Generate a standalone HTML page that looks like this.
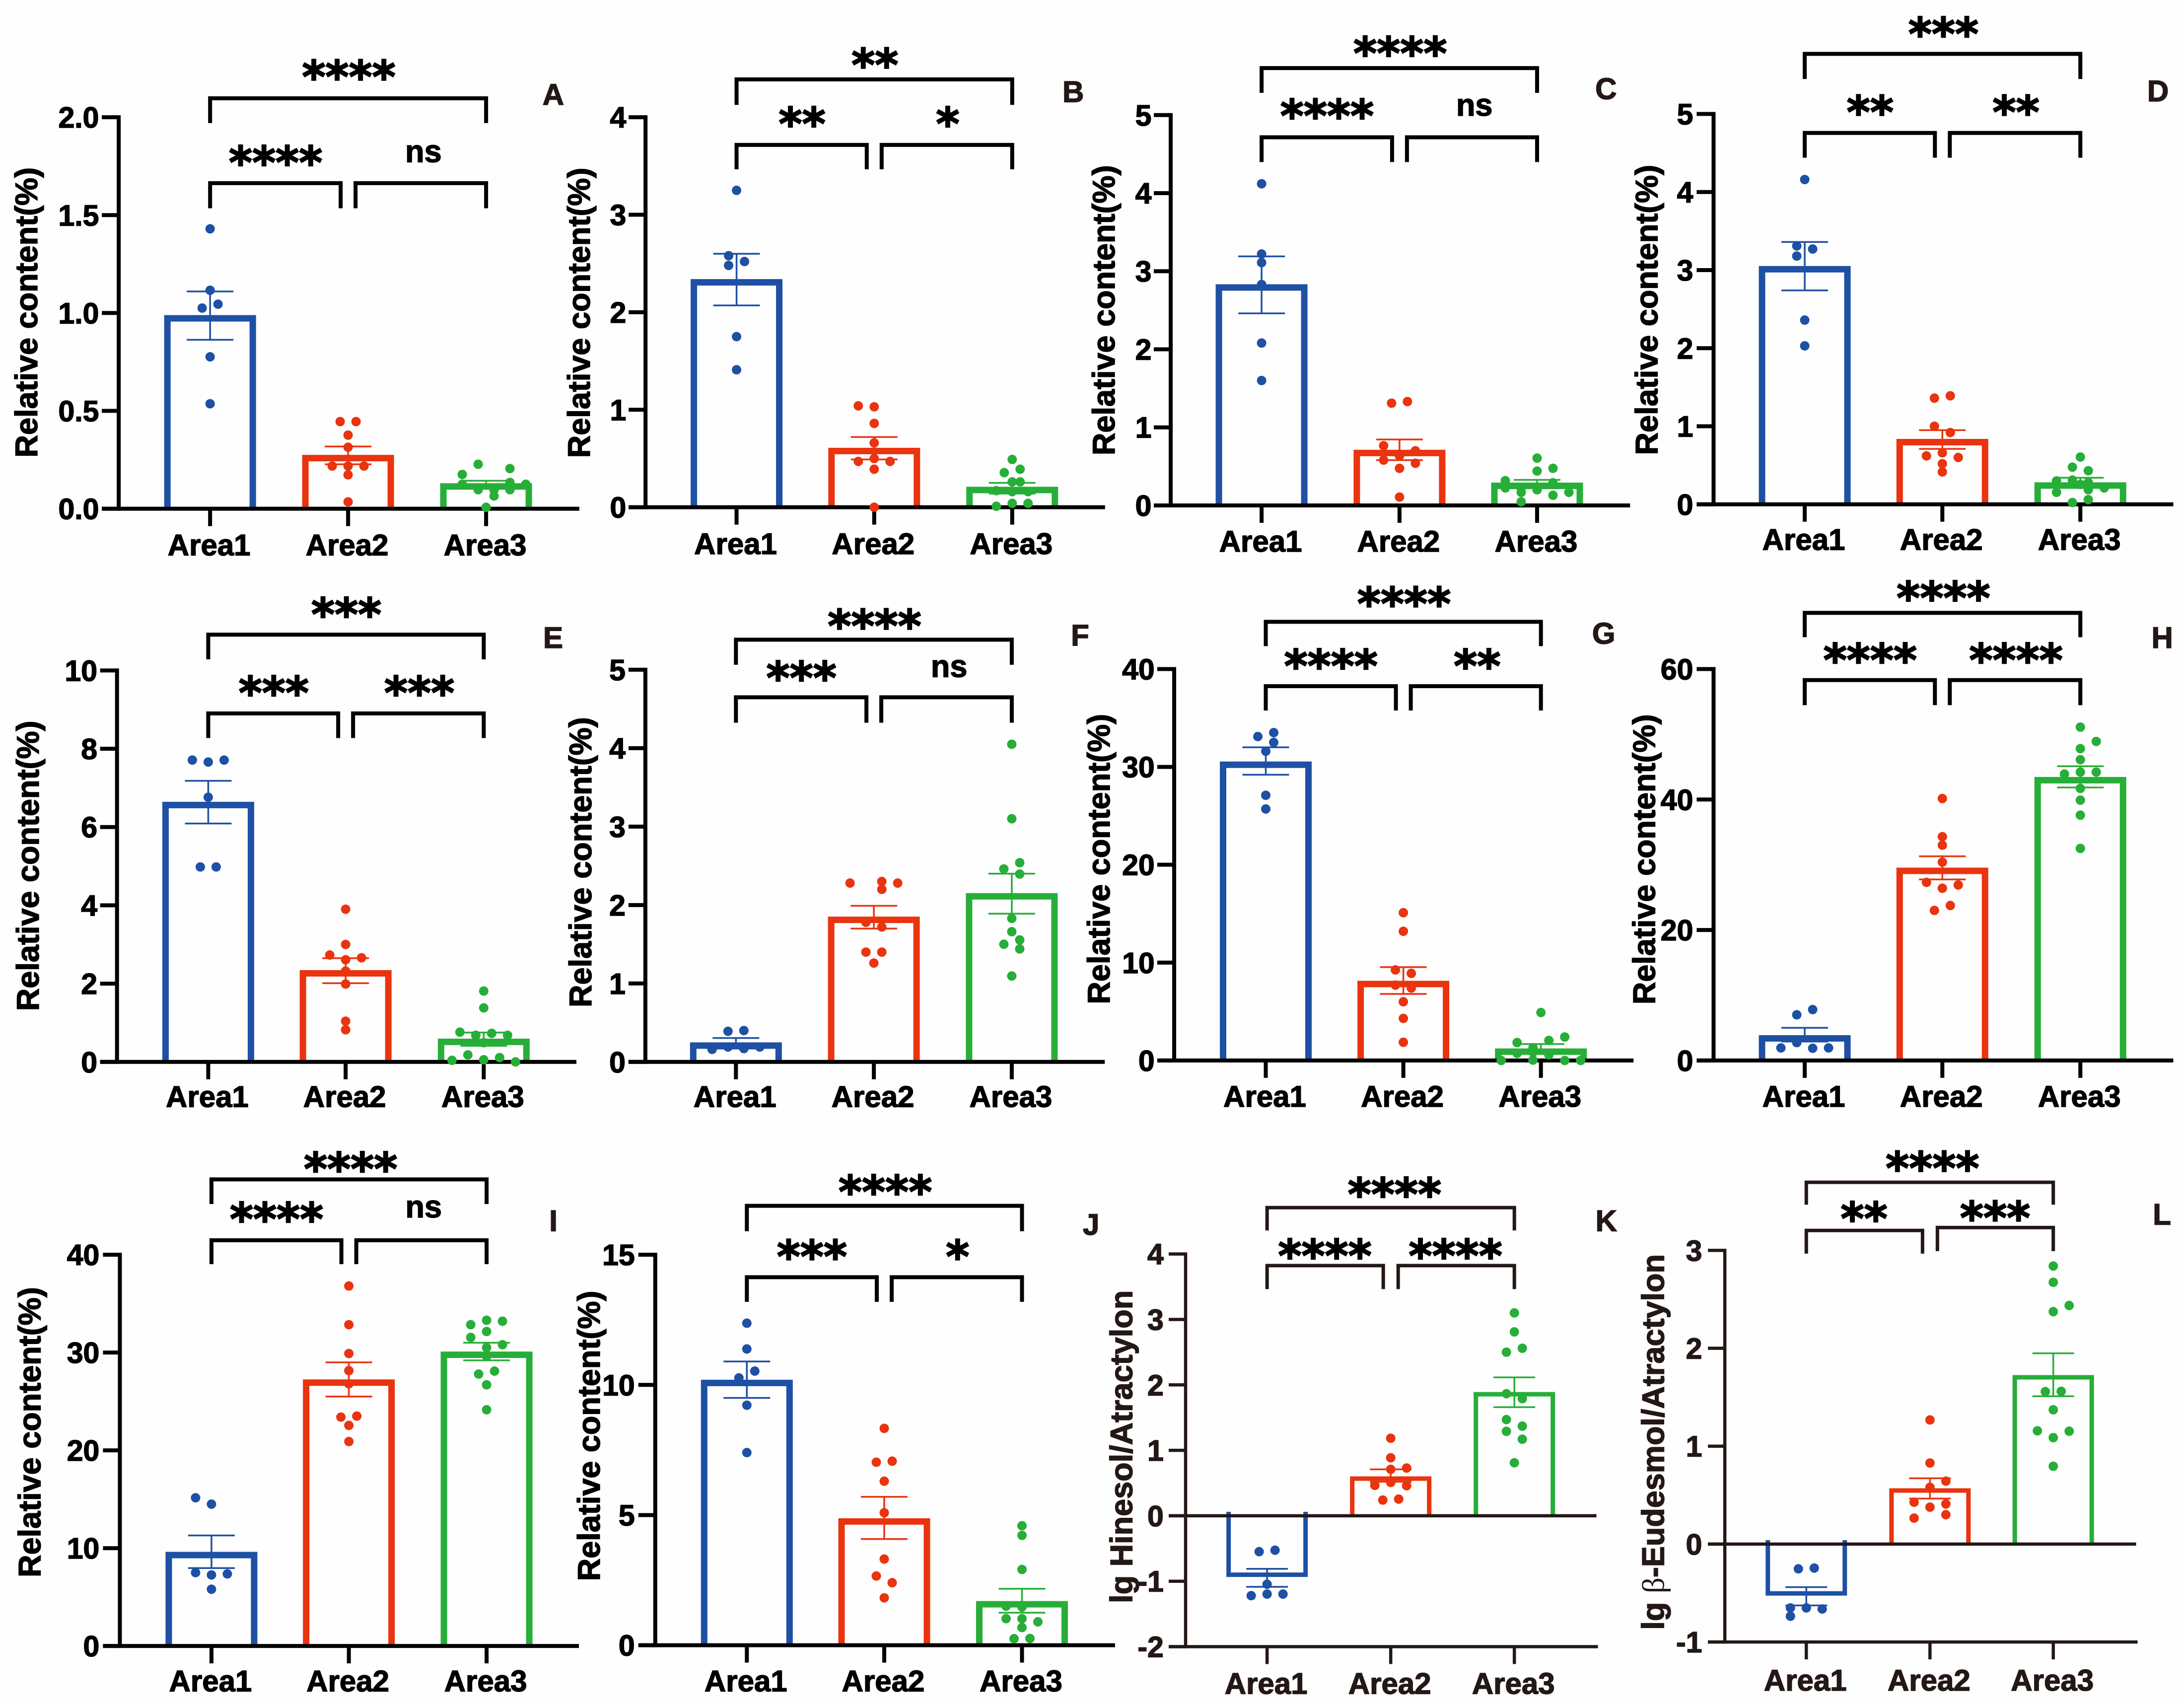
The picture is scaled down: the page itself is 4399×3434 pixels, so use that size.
<!DOCTYPE html>
<html lang="en">
<head>
<meta charset="utf-8">
<title>Relative content by area, panels A to L</title>
<style>
html,body{margin:0;padding:0;background:#fefefe;}
svg{display:block;}
text{font-family:"Liberation Sans",Arial,sans-serif;font-weight:700;}
</style>
</head>
<body>
<svg id="figure" xmlns="http://www.w3.org/2000/svg" width="4399" height="3434" viewBox="0 0 4399 3434">
<rect x="0" y="0" width="4399" height="3434" fill="#fefefe"/>
</svg>
<script>
const categories = ['Area1', 'Area2', 'Area3'];
const relTitle = 'Relative content(%)';

const ticksA = ['0.0', '0.5', '1.0', '1.5', '2.0'];
const meansA = [0.984, 0.27, 0.125];
const hiA = [1.11, 0.318, 0.143];
const loA = [0.863, 0.227, 0.102];
const ptsA = [[1.43, 1.116, 1.045, 1.025, 0.776, 0.536], [0.445, 0.445, 0.376, 0.314, 0.218, 0.218, 0.218, 0.173, 0.035], [0.227, 0.205, 0.175, 0.125, 0.134, 0.125, 0.097, 0.097, 0.097, 0.065, 0.007]];
const dodgeA = [[0, 0, 1, -1, 0, 0], [-1, 1, 0, 0, -2, 0, 2, 0, 0], [-1, 3, -3, -3, 3, 5, -1, 1, 3, 1, 0]];
const sigA = ['****', '****', 'ns'];

const ticksB = ['0', '1', '2', '3', '4'];
const meansB = [2.33, 0.6, 0.2];
const hiB = [2.6, 0.72, 0.25];
const loB = [2.07, 0.49, 0.14];
const ptsB = [[3.25, 2.58, 2.52, 2.48, 1.75, 1.41], [1.04, 1.03, 0.86, 0.66, 0.47, 0.5, 0.47, 0.39, 0.0], [0.49, 0.39, 0.355, 0.26, 0.26, 0.17, 0.16, 0.16, 0.04, 0.01, 0.04]];
const dodgeB = [[0, -1, 1, -1, 0, 0], [-2, 0, 0, 0, -2, 0, 2, 0, 0], [0, 1, -1, 0, 1, -2, 0, 2, 2, -2, 0]];
const sigB = ['**', '**', '*'];

const ticksC = ['0', '1', '2', '3', '4', '5'];
const meansC = [2.82, 0.7, 0.28];
const hiC = [3.19, 0.845, 0.327];
const loC = [2.46, 0.58, 0.22];
const ptsC = [[4.12, 3.22, 3.11, 2.83, 2.08, 1.6], [1.31, 1.33, 0.765, 0.7, 0.635, 0.58, 0.54, 0.475, 0.107], [0.606, 0.44, 0.475, 0.317, 0.29, 0.224, 0.224, 0.2, 0.168, 0.168, 0.13, 0.047]];
const dodgeC = [[0, 0, 0, 0, 0, 0], [-1, 1, -2, 2, 0, -2, 2, 0, 0], [0, 0, 2, -4, 2, -4, -2, 0, 4, -2, 2, -2]];
const sigC = ['****', '****', 'ns'];

const ticksD = ['0', '1', '2', '3', '4', '5'];
const meansD = [3.04, 0.825, 0.27];
const hiD = [3.36, 0.95, 0.34];
const loD = [2.74, 0.71, 0.21];
const ptsD = [[4.16, 3.31, 3.27, 3.18, 2.36, 2.03], [1.39, 1.36, 1.0, 0.92, 0.66, 0.62, 0.6, 0.52, 0.415], [0.606, 0.476, 0.43, 0.3, 0.31, 0.28, 0.255, 0.21, 0.154, 0.187, 0.06, 0.023]];
const dodgeD = [[0, -1, 1, -1, 0, 0], [1, -1, -1, 1, 0, -2, 2, 0, 0], [0, -1, 1, -3, -1, 1, 0, 3, -3, 1, 1, -1]];
const sigD = ['***', '**', '**'];

const ticksE = ['0', '2', '4', '6', '8', '10'];
const meansE = [6.62, 2.32, 0.57];
const hiE = [7.18, 2.65, 0.75];
const loE = [6.09, 2.01, 0.41];
const ptsE = [[7.71, 7.71, 7.66, 6.76, 4.98, 4.98], [3.9, 3.0, 2.73, 2.66, 2.61, 2.32, 1.99, 1.04, 0.82], [1.81, 1.38, 0.76, 0.73, 0.68, 0.68, 0.49, 0.18, 0.11, 0.055, 0.04, 0.0]];
const dodgeE = [[-2, 2, 0, 0, -1, 1], [0, 0, -2, 2, 0, 0, 0, 0, 0], [0, 0, -3, 1, -1, 3, 0, -2, 2, 0, -4, 4]];
const sigE = ['***', '***', '***'];

const ticksF = ['0', '1', '2', '3', '4', '5'];
const meansF = [0.237, 1.84, 2.14];
const hiF = [0.305, 1.99, 2.4];
const loF = [0.17, 1.7, 1.89];
const ptsF = [[0.39, 0.4, 0.16, 0.19, 0.17, 0.19], [2.28, 2.3, 2.28, 2.2, 1.78, 1.72, 1.4, 1.4, 1.26], [4.05, 3.1, 2.54, 2.46, 2.395, 1.83, 1.66, 1.555, 1.5, 1.44, 1.095]];
const dodgeF = [[-1, 1, -3, -1, 1, 3], [-3, 1, 3, 1, -1, 1, -1, 1, 0], [0, 0, 1, -1, 1, 0, 0, 1, -1, 1, 0]];
const sigF = ['****', '***', 'ns'];

const ticksG = ['0', '10', '20', '30', '40'];
const meansG = [30.45, 8.04, 1.13];
const hiG = [32.0, 9.54, 1.68];
const loG = [29.2, 6.8, 0.73];
const ptsG = [[33.5, 33.1, 32.5, 31.6, 27.1, 25.7], [15.1, 13.2, 9.25, 8.9, 7.7, 7.4, 6.0, 4.3, 1.86], [4.9, 2.4, 2.05, 1.83, 1.3, 0.73, 0.84, 0.58, 0.04, 0.0, 0.0, 0.0]];
const dodgeG = [[1, -1, 1, 0, 0, 0], [0, 0, -1, 1, -1, 1, 0, 0, 0], [0, 3, 1, -3, -1, -3, -1, 1, -1, 3, -5, 5]];
const sigG = ['****', '****', '**'];

const ticksH = ['0', '20', '40', '60'];
const meansH = [3.73, 29.4, 43.3];
const hiH = [5.0, 31.3, 45.1];
const loH = [2.9, 27.75, 41.85];
const ptsH = [[7.8, 7.0, 2.74, 1.92, 1.87, 1.92], [40.15, 34.3, 33.0, 30.4, 27.3, 26.9, 26.4, 23.75, 23.0], [51.1, 48.9, 47.8, 46.1, 44.2, 44.2, 43.9, 41.7, 39.9, 37.6, 32.5]];
const dodgeH = [[1, -1, -1, -3, 1, 3], [0, 0, 0, 0, -2, 2, 0, 1, -1], [0, 2, 0, 0, 0, 2, -2, 0, 0, 0, 0]];
const sigH = ['****', '****', '****'];

const ticksI = ['0', '10', '20', '30', '40'];
const meansI = [9.52, 27.15, 30.0];
const hiI = [11.3, 29.0, 31.0];
const loI = [7.96, 25.5, 29.2];
const ptsI = [[15.15, 14.5, 7.5, 7.37, 7.26, 5.8], [36.8, 32.85, 29.9, 28.15, 26.8, 23.5, 23.4, 22.55, 20.9], [33.3, 33.2, 32.85, 32.15, 31.55, 30.8, 30.5, 29.6, 28.1, 27.8, 26.7, 24.15]];
const dodgeI = [[-2, 0, -2, 2, 0, 0], [0, 0, 0, 0, 0, 1, -1, 0, 0], [0, 2, -2, 0, -2, 2, 0, 0, 1, -1, 0, 0]];
const sigI = ['****', '****', 'ns'];

const ticksJ = ['0', '5', '10', '15'];
const meansJ = [10.16, 4.84, 1.66];
const hiJ = [10.9, 5.7, 2.17];
const loJ = [9.5, 4.08, 1.25];
const ptsJ = [[12.37, 11.38, 10.53, 10.27, 9.22, 7.4], [8.33, 7.03, 7.07, 6.3, 5.09, 3.31, 2.66, 2.4, 1.82], [4.59, 4.22, 2.91, 1.5, 1.47, 1.02, 1.02, 0.9, 0.68, 0.25, 0.26]];
const dodgeJ = [[0, 0, 1, -1, 0, 0], [0, -1, 1, 0, 0, 0, -1, 1, 0], [0, 0, 0, -2, 0, -2, 0, 2, 0, -1, 1]];
const sigJ = ['****', '***', '*'];

const ticksK = ['-2', '-1', '0', '1', '2', '3', '4'];
const meansK = [-0.935, 0.587, 1.876];
const hiK = [-0.81, 0.71, 2.115];
const loK = [-1.085, 0.52, 1.66];
const ptsK = [[-0.526, -0.548, -1.046, -1.196, -1.196, -1.22], [1.185, 0.886, 0.73, 0.71, 0.465, 0.51, 0.46, 0.24, 0.255], [3.1, 2.81, 2.56, 2.5, 1.865, 1.79, 1.47, 1.37, 1.29, 1.17, 0.81]];
const dodgeK = [[1, -1, 0, 0, 2, -2], [0, 0, 2, 0, -2, 0, 2, -1, 1], [0, 0, 1, -1, -1, 1, -1, 1, -1, 1, 0]];
const sigK = ['****', '****', '****'];

const ticksL = ['-1', '0', '1', '2', '3'];
const meansL = [-0.527, 0.56, 1.716];
const hiL = [-0.44, 0.672, 1.949];
const loL = [-0.627, 0.465, 1.51];
const ptsL = [[-0.253, -0.245, -0.652, -0.652, -0.663, -0.737], [1.268, 0.828, 0.643, 0.58, 0.428, 0.41, 0.377, 0.3, 0.265], [2.84, 2.674, 2.437, 2.374, 1.557, 1.56, 1.372, 1.157, 1.153, 1.087, 0.795]];
const dodgeL = [[-1, 1, 0, -2, 2, -2], [0, 0, 2, 0, -2, 2, 0, 2, -2], [0, 0, 2, 0, -1, 1, 0, -2, 2, 0, 0]];
const sigL = ['****', '**', '***'];

const seriesColors = ['#1e50a4', '#e9340f', '#27ae38'];
const NS = 'http://www.w3.org/2000/svg';
const DODGE_PX = 16;
const svg = document.getElementById('figure');

const panels = [
  { id: 'A', ticks: ticksA, means: meansA, hi: hiA, lo: loA, pts: ptsA, dodge: dodgeA, sig: sigA, title: relTitle,
    g: { ox: 0, oy: 0, sx: 1.3635, sy: 1.3635, axisX: 326, yMin: 1397, yMax: 322, cats: [577, 956, 1335], xEnd: 1591, tickRight: 272, titleX: 102, titleY: 858, labelY: 1525, letter: [1490, 288], topY: 270, topDrop: 338, midY: 503, midDrop: 572, sigPos: [[958, 193], [757, 428], [1163, 445]] } },
  { id: 'B', ticks: ticksB, means: meansB, hi: hiB, lo: loB, pts: ptsB, dodge: dodgeB, sig: sigB, title: relTitle,
    g: { ox: 1100, oy: 0, sx: 1.3635, sy: 1.3635, axisX: 273, yMin: 1393, yMax: 322, cats: [523, 901, 1280], xEnd: 1535, tickRight: 220, titleX: 120, titleY: 859, labelY: 1522, letter: [1418, 280], topY: 218, topDrop: 288, midY: 398, midDrop: 465, sigPos: [[903, 160], [703, 322], [1103, 322]] } },
  { id: 'C', ticks: ticksC, means: meansC, hi: hiC, lo: loC, pts: ptsC, dodge: dodgeC, sig: sigC, title: relTitle,
    g: { ox: 2170, oy: 0, sx: 1.4255, sy: 1.3635, axisX: 268, yMin: 1388, yMax: 316, cats: [529, 925, 1320], xEnd: 1587, tickRight: 213, titleX: 107, titleY: 852, labelY: 1515, letter: [1487, 272], topY: 187, topDrop: 255, midY: 377, midDrop: 445, sigPos: [[927, 128], [717, 300], [1140, 318]] } },
  { id: 'D', ticks: ticksD, means: meansD, hi: hiD, lo: loD, pts: ptsD, dodge: dodgeD, sig: sigD, title: relTitle,
    g: { ox: 3270, oy: 0, sx: 1.3888, sy: 1.3635, axisX: 252, yMin: 1385, yMax: 313, cats: [507, 892, 1278], xEnd: 1538, tickRight: 195, titleX: 95, titleY: 851, labelY: 1510, letter: [1465, 278], topY: 148, topDrop: 217, midY: 365, midDrop: 433, sigPos: [[895, 75], [690, 290], [1098, 290]] } },
  { id: 'E', ticks: ticksE, means: meansE, hi: hiE, lo: loE, pts: ptsE, dodge: dodgeE, sig: sigE, title: relTitle,
    g: { ox: 0, oy: 1150, sx: 1.3876, sy: 1.3876, axisX: 327, yMin: 1372, yMax: 278, cats: [582, 966, 1352], xEnd: 1611, tickRight: 272, titleX: 108, titleY: 824, labelY: 1498, letter: [1518, 215], topY: 178, topDrop: 247, midY: 398, midDrop: 467, sigPos: [[968, 103], [765, 322], [1172, 322]] } },
  { id: 'F', ticks: ticksF, means: meansF, hi: hiF, lo: loF, pts: ptsF, dodge: dodgeF, sig: sigF, title: relTitle,
    g: { ox: 1100, oy: 1150, sx: 1.4255, sy: 1.3876, axisX: 285, yMin: 1372, yMax: 276, cats: [545, 941, 1337], xEnd: 1604, tickRight: 228, titleX: 130, titleY: 814, labelY: 1498, letter: [1507, 208], topY: 192, topDrop: 262, midY: 353, midDrop: 424, sigPos: [[943, 135], [733, 280], [1157, 296]] } },
  { id: 'G', ticks: ticksG, means: meansG, hi: hiG, lo: loG, pts: ptsG, dodge: dodgeG, sig: sigG, title: relTitle,
    g: { ox: 2170, oy: 1150, sx: 1.4255, sy: 1.3876, axisX: 278, yMin: 1368, yMax: 274, cats: [541, 936, 1331], xEnd: 1597, tickRight: 222, titleX: 93, titleY: 805, labelY: 1497, letter: [1478, 203], topY: 142, topDrop: 210, midY: 322, midDrop: 390, sigPos: [[938, 73], [728, 247], [1148, 247]] } },
  { id: 'H', ticks: ticksH, means: meansH, hi: hiH, lo: loH, pts: ptsH, dodge: dodgeH, sig: sigH, title: relTitle,
    g: { ox: 3270, oy: 1150, sx: 1.3888, sy: 1.3876, axisX: 252, yMin: 1368, yMax: 274, cats: [507, 892, 1278], xEnd: 1538, tickRight: 195, titleX: 88, titleY: 806, labelY: 1497, letter: [1477, 215], topY: 117, topDrop: 185, midY: 305, midDrop: 375, sigPos: [[895, 57], [690, 230], [1098, 230]] } },
  { id: 'I', ticks: ticksI, means: meansI, hi: hiI, lo: loI, pts: ptsI, dodge: dodgeI, sig: sigI, title: relTitle,
    g: { ox: 0, oy: 2290, sx: 1.3876, sy: 1.3706, axisX: 335, yMin: 1405, yMax: 325, cats: [591, 975, 1360], xEnd: 1618, tickRight: 278, titleX: 113, titleY: 815, labelY: 1530, letter: [1535, 260], topY: 117, topDrop: 185, midY: 285, midDrop: 351, sigPos: [[980, 70], [773, 208], [1184, 222]] } },
  { id: 'J', ticks: ticksJ, means: meansJ, hi: hiJ, lo: loJ, pts: ptsJ, dodge: dodgeJ, sig: sigJ, title: relTitle,
    g: { ox: 1100, oy: 2290, sx: 1.3876, sy: 1.3706, axisX: 305, yMin: 1403, yMax: 325, cats: [561, 945, 1330], xEnd: 1590, tickRight: 248, titleX: 150, titleY: 825, labelY: 1530, letter: [1500, 270], topY: 190, topDrop: 260, midY: 387, midDrop: 455, sigPos: [[948, 133], [743, 312], [1150, 312]] } },
  { id: 'K', ticks: ticksK, means: meansK, hi: hiK, lo: loK, pts: ptsK, dodge: dodgeK, sig: sigK, title: 'lg Hinesol/Atractylon',
    g: { ox: 2200, oy: 2290, sx: 1.4255, sy: 1.3706, axisX: 268, yMin: 1407, yMax: 323, cats: [502, 857, 1212], xEnd: 1452, tickRight: 205, titleX: 115, titleY: 855, labelY: 1537, letter: [1445, 260], topY: 195, topDrop: 258, midY: 355, midDrop: 420, sigPos: [[868, 140], [668, 310], [1043, 310]], thin: true } },
  { id: 'L', ticks: ticksL, means: meansL, hi: hiL, lo: loL, pts: ptsL, dodge: dodgeL, sig: sigL, title: 'lg |β|-Eudesmol/Atractylon',
    g: { ox: 3280, oy: 2290, sx: 1.4012, sy: 1.3706, axisX: 272, yMin: 1394, yMax: 313, cats: [502, 851, 1199], xEnd: 1437, tickRight: 208, titleX: 100, titleY: 842, labelY: 1528, letter: [1480, 242], topY: 125, topDrop: 187, midY: 258, midDrop: 322, midYRight: 250, midDropRight: 315, sigPos: [[858, 68], [665, 207], [1035, 205]], thin: true } }
];

function mk(tag, attrs, parent) {
  const node = document.createElementNS(NS, tag);
  for (const k in attrs) node.setAttribute(k, attrs[k]);
  parent.appendChild(node);
  return node;
}

function drawPanel(p) {
  const g = p.g;
  const X = v => g.ox + v / g.sx;
  const Y = v => g.oy + v / g.sy;
  const tickVals = p.ticks.map(Number);
  const vMin = tickVals[0];
  const vMax = tickVals[tickVals.length - 1];
  const py0 = Y(g.yMin);
  const py1 = Y(g.yMax);
  const yScale = v => py0 + (v - vMin) / (vMax - vMin) * (py1 - py0);
  const ink = g.thin ? '#231815' : '#000000';
  const axisW = g.thin ? 6.5 : 8;
  const barStroke = g.thin ? 9 : 13;
  const barW = g.thin ? 164 : 185;
  const capHalf = g.thin ? 42 : 47;
  const axisX = X(g.axisX);
  const tickLen = 34;
  const zeroY = yScale(Math.max(0, vMin));
  const catX = g.cats.map(X);

  const panel = mk('g', {}, svg);
  
  

  // bars
  categories.forEach((cat, i) => {
    const left = catX[i] - barW / 2 + barStroke / 2;
    const right = catX[i] + barW / 2 - barStroke / 2;
    const v = p.means[i];
    const edge = v >= 0 ? yScale(v) + barStroke / 2 - 2 : yScale(v) - barStroke / 2;
    const start = v >= 0 ? zeroY : zeroY - 8;
    const bar = mk('path', { d: 'M' + left + ' ' + start + 'V' + edge + 'H' + right + 'V' + start, fill: 'none', stroke: seriesColors[i], 'stroke-width': barStroke }, panel);
    
    
  });

  // axes
  const yAxis = mk('line', { x1: axisX, x2: axisX, y1: py1 - axisW / 2, y2: py0 + axisW / 2, stroke: ink, 'stroke-width': axisW }, panel);
  
  
  const xAxis = mk('line', { x1: axisX - tickLen, x2: X(g.xEnd), y1: py0, y2: py0, stroke: ink, 'stroke-width': axisW }, panel);
  
  
  if (vMin < 0) {
    const zeroLine = mk('line', { x1: axisX - tickLen, x2: X(g.xEnd) - 3, y1: zeroY, y2: zeroY, stroke: ink, 'stroke-width': axisW }, panel);
    
    
  }

  // y ticks
  p.ticks.forEach((label, i) => {
    const ty = yScale(tickVals[i]);
    const tick = mk('line', { x1: axisX - tickLen, x2: axisX, y1: ty, y2: ty, stroke: ink, 'stroke-width': axisW }, panel);
    
    
    const text = mk('text', { x: X(g.tickRight), y: ty + 21, 'text-anchor': 'end', 'font-size': 59, fill: ink }, panel);
    text.textContent = label;
    
    
  });

  // x ticks and labels
  categories.forEach((cat, i) => {
    const tick = mk('line', { x1: catX[i], x2: catX[i], y1: py0, y2: py0 + 35, stroke: ink, 'stroke-width': axisW }, panel);
    
    
    const text = mk('text', { x: catX[i] - 2, y: Y(g.labelY), 'text-anchor': 'middle', 'font-size': 60, fill: ink }, panel);
    text.textContent = cat;
    
    
  });

  // y title
  const title = mk('text', { x: X(g.titleX), y: Y(g.titleY), 'text-anchor': 'middle', 'font-size': 63, fill: ink, transform: 'rotate(-90 ' + X(g.titleX) + ' ' + Y(g.titleY) + ')' }, panel);
  p.title.split('|').forEach(part => {
    const span = mk('tspan', {}, title);
    span.textContent = part;
    if (part === 'β') {
      span.setAttribute('style', 'font-family:"Liberation Serif",serif;font-weight:400;stroke-width:0');
    }
  });
  
  

  // error bars
  categories.forEach((cat, i) => {
    const yHi = yScale(p.hi[i]);
    const yLo = yScale(p.lo[i]);
    const cx = catX[i];
    const err = mk('path', { d: 'M' + (cx - capHalf) + ' ' + yHi + 'H' + (cx + capHalf) + 'M' + cx + ' ' + yHi + 'V' + yLo + 'M' + (cx - capHalf) + ' ' + yLo + 'H' + (cx + capHalf), fill: 'none', stroke: seriesColors[i], 'stroke-width': 3.5 }, panel);
    
    
  });

  // points
  categories.forEach((cat, i) => {
    p.pts[i].forEach((v, j) => {
      const dot = mk('circle', { cx: catX[i] + p.dodge[i][j] * DODGE_PX, cy: yScale(v), r: 9.5, fill: seriesColors[i] }, panel);
      
      
    });
  });

  // brackets
  const gap = 15;
  const bracketW = g.thin ? 7 : 8;
  const topB = mk('path', { d: 'M' + catX[0] + ' ' + Y(g.topDrop) + 'V' + Y(g.topY) + 'H' + catX[2] + 'V' + Y(g.topDrop), fill: 'none', stroke: ink, 'stroke-width': bracketW }, panel);
  
  
  const leftB = mk('path', { d: 'M' + catX[0] + ' ' + Y(g.midDrop) + 'V' + Y(g.midY) + 'H' + (catX[1] - gap) + 'V' + Y(g.midDrop), fill: 'none', stroke: ink, 'stroke-width': bracketW }, panel);
  
  
  const rightY = g.midYRight === undefined ? g.midY : g.midYRight;
  const rightDrop = g.midDropRight === undefined ? g.midDrop : g.midDropRight;
  const rightB = mk('path', { d: 'M' + (catX[1] + gap) + ' ' + Y(rightDrop) + 'V' + Y(rightY) + 'H' + catX[2] + 'V' + Y(rightDrop), fill: 'none', stroke: ink, 'stroke-width': bracketW }, panel);
  
  

  // significance labels
  p.sig.forEach((label, i) => {
    const pos = g.sigPos[i];
    let text;
    if (label === 'ns') {
      text = mk('text', { x: X(pos[0]), y: Y(pos[1]), 'text-anchor': 'middle', 'font-size': 63, fill: '#000000' }, panel);
    } else {
      text = mk('text', { x: X(pos[0]), y: Y(pos[1]) + 45, 'text-anchor': 'middle', 'font-size': 90, fill: '#000000', 'stroke-width': 2.5, style: 'font-family:"DejaVu Sans",sans-serif;font-weight:700' }, panel);
    }
    text.textContent = label;
    
    
  });

  // panel letter
  const letter = mk('text', { x: X(g.letter[0]), y: Y(g.letter[1]), 'font-size': 60, fill: '#231815' }, panel);
  letter.textContent = p.id;
  
  
}

panels.forEach(drawPanel);

// The reference type is slightly heavier than the plain bold face.
svg.querySelectorAll('text').forEach(t => {
  t.setAttribute('stroke', t.getAttribute('fill'));
  if (!t.hasAttribute('stroke-width')) t.setAttribute('stroke-width', 1.5);
});
</script>
</body>
</html>
